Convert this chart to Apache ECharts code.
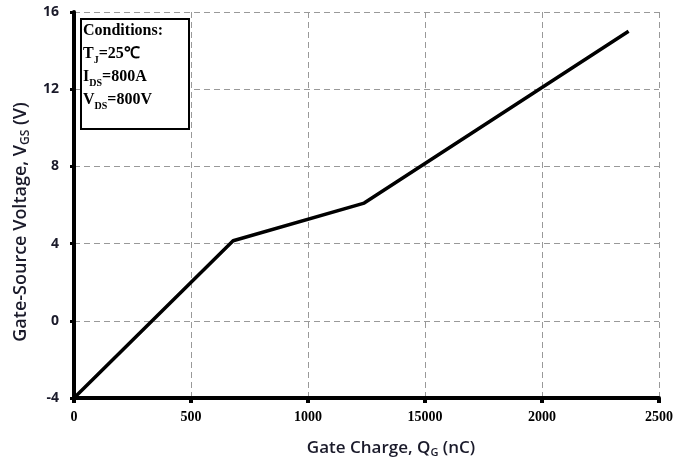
<!DOCTYPE html>
<html><head><meta charset="utf-8">
<script src="https://cdn.jsdelivr.net/npm/echarts@6/dist/echarts.min.js"></script>
<style>html,body{margin:0;padding:0;background:#fff}#c{width:689px;height:461px}</style>
</head><body><div id="c"></div>
<script>
// Data
const gateCharge = [0, 680, 1240, 2370];          // nC
const gateVoltage = [-4, 4.15, 6.1, 15];           // V
const xTickValues = [0, 500, 1000, 1500, 2000, 2500];
const xTickLabels = ['0', '500', '1000', '15000', '2000', '2500'];
const yTickValues = [-4, 0, 4, 8, 12, 16];
const yTickLabels = ['-4', '0', '4', '8', '12', '16'];

const chart = echarts.init(document.getElementById('c'), null, {renderer: 'canvas'});
const titleColor = '#1a1a2a';
function titleRich(size) {
  return {
    a: {fontFamily: 'Open Sans', fontSize: size, fontWeight: 600, fill: titleColor, lineHeight: size + 4},
    s: {fontFamily: 'Open Sans', fontSize: Math.round(size * 0.65), fontWeight: 600, fill: titleColor, lineHeight: size + 4, verticalAlign: 'bottom'}
  };
}
const option = {
  animation: false,
  grid: {left: 74, right: 30, top: 12, bottom: 63, containLabel: false},
  xAxis: {
    type: 'value', min: 0, max: 2500, interval: 500,
    axisLine: {show: true, onZero: false, lineStyle: {color: '#000', width: 4}},
    axisTick: {show: true, length: 5, lineStyle: {color: '#000', width: 4}},
    axisLabel: {
      margin: 12, color: '#000', fontFamily: 'Liberation Serif', fontWeight: 'bold', fontSize: 14,
      formatter: v => { const i = xTickValues.indexOf(v); return i >= 0 ? xTickLabels[i] : ''; }
    },
    splitLine: {show: true, lineStyle: {color: '#999', type: [6, 4], width: 1}}
  },
  yAxis: {
    type: 'value', min: -4, max: 16, interval: 4,
    axisLine: {show: true, onZero: false, lineStyle: {color: '#000', width: 4}},
    axisTick: {show: true, length: 4, lineStyle: {color: '#000', width: 3}},
    axisLabel: {
      margin: 15, color: titleColor, fontFamily: 'Open Sans', fontWeight: 'bold', fontSize: 14,
      formatter: v => { const i = yTickValues.indexOf(v); return i >= 0 ? yTickLabels[i] : ''; }
    },
    splitLine: {show: true, lineStyle: {color: '#999', type: [6, 4], width: 1}}
  },
  series: [{
    type: 'line', data: gateCharge.map((x, i) => [x, gateVoltage[i]]),
    showSymbol: false, lineStyle: {color: '#000', width: 3.5}, z: 5
  }],
  graphic: [
    {type: 'text', x: 391, y: 448, z: 11,
     style: {text: '{a|Gate Charge, Q}{s|G}{a| (nC)}', align: 'center', verticalAlign: 'middle', rich: titleRich(17)}},
    {type: 'text', x: 21, y: 222, rotation: Math.PI / 2, z: 11,
     style: {text: '{a|Gate-Source Voltage, V}{s|GS}{a| (V)}', align: 'center', verticalAlign: 'middle', rich: titleRich(18)}},
    {type: 'rect', left: 80, top: 18, z: 10,
     shape: {width: 108, height: 110},
     style: {fill: '#fff', stroke: '#000', lineWidth: 2}},
    {type: 'text', left: 83, top: 23, z: 11,
     style: {
       text: '{b|Conditions:}\n{b|T}{s|J}{b|=25℃}\n{b|I}{s|DS}{b|=800A}\n{b|V}{s|DS}{b|=800V}',
       rich: {
         b: {fontFamily: 'Liberation Serif', fontWeight: 'bold', fontSize: 16, fill: '#000', lineHeight: 23},
         s: {fontFamily: 'Liberation Serif', fontWeight: 'bold', fontSize: 10, fill: '#000', lineHeight: 23, verticalAlign: 'bottom'}
       }
     }}
  ]
};
chart.setOption(option);
</script></body></html>
